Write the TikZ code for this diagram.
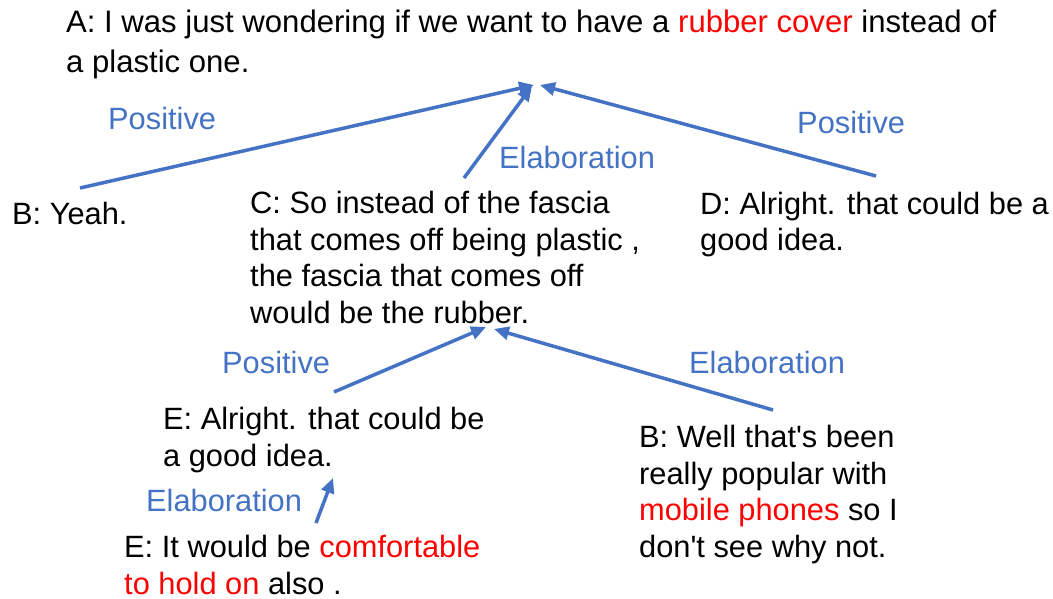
\documentclass[tikz,border=0pt]{standalone}
\usepackage{fontspec}
\setmainfont{Liberation Sans}[Ligatures=TeXOff]
\usetikzlibrary{arrows.meta}
\definecolor{linkblue}{HTML}{4472C4}
\definecolor{hilite}{HTML}{FF0000}
\begin{document}
\begin{tikzpicture}[x=1pt,y=-1pt,
  utt/.style={anchor=base west, inner sep=0pt, align=left,
              font=\fontsize{30.8}{36.5}\selectfont},
  rel/.style={anchor=base west, inner sep=0pt, text=linkblue,
              font=\fontsize{30.8}{36.5}\selectfont},
  link/.style={draw=linkblue, line width=3.5pt,
               -{Triangle[length=15pt,width=13pt]}}]
\useasboundingbox (0,0) rectangle (1053,599);

% utterances (anchored at the baseline of their last line)
\node[utt, font=\fontsize{31.1}{40}\selectfont] (A) at (66,73)
  {A: I was just wondering if we want to have a \textcolor{hilite}{rubber cover} instead of\\a plastic one.};
\node[utt] (B1) at (12,225) {B: Yeah.};
\node[utt] (C) at (250,323) {C: So instead of the fascia\\that comes off being plastic ,\\the fascia that comes off\\would be the rubber.};
\node[utt] (D) at (700,251) {D: Alright. that could be a\\good idea.};
\node[utt] (E1) at (163,466) {E: Alright. that could be\\a good idea.};
\node[utt] (B2) at (639,557) {B: Well that's been\\really popular with\\\textcolor{hilite}{mobile phones} so I\\don't see why not.};
\node[utt] (E2) at (124,594) {E: It would be \textcolor{hilite}{comfortable}\\\textcolor{hilite}{to hold on} also .};

% relation labels
\node[rel] (r1) at (108,130) {Positive};
\node[rel] (r2) at (499,168) {Elaboration};
\node[rel] (r3) at (797,134) {Positive};
\node[rel] (r4) at (222,373) {Positive};
\node[rel] (r5) at (689,373) {Elaboration};
\node[rel] (r6) at (146,511) {Elaboration};

% attachment points of the links
\coordinate (Aleft) at (534,85);
\coordinate (Amid) at (532,86);
\coordinate (Aright) at (540,85);
\coordinate (B1top) at (80,188);
\coordinate (Ctop) at (464,178);
\coordinate (Dtop) at (876,176);
\coordinate (Cleft) at (486,327);
\coordinate (Cright) at (494,329);
\coordinate (E1top) at (334,392);
\coordinate (B2top) at (773,410);
\coordinate (E1bot) at (333,478);
\coordinate (E2top) at (316,523);

% links
\draw[link] (B1top) -- (Aleft);
\draw[link] (Ctop) -- (Amid);
\draw[link] (Dtop) -- (Aright);
\draw[link] (E1top) -- (Cleft);
\draw[link] (B2top) -- (Cright);
\draw[link] (E2top) -- (E1bot);
\end{tikzpicture}
\end{document}
